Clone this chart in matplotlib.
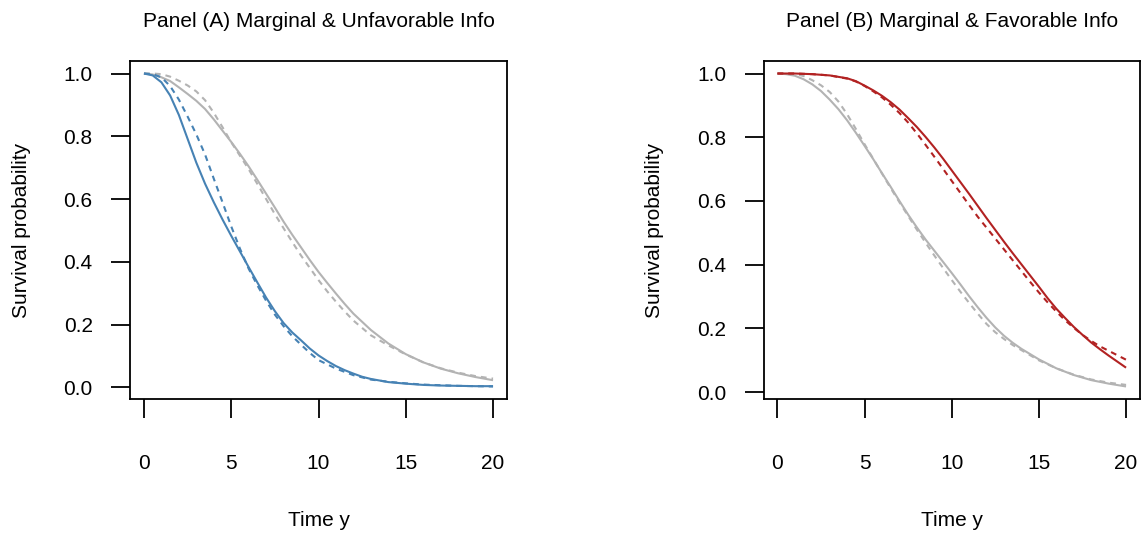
import numpy as np
import matplotlib
matplotlib.use("Agg")
import matplotlib.pyplot as plt

plt.rcParams['font.family'] = ['Liberation Sans', 'DejaVu Sans']

# ---------------- Data ----------------
# Panel A: Marginal & Unfavorable Info
tA_blue_solid = [0, 0.5, 1, 1.5, 2, 2.5, 3, 3.5, 4, 4.5, 5, 5.5, 6, 6.5, 7, 7.5, 8, 8.5, 9,
                 9.5, 10, 10.5, 11, 11.5, 12, 12.5, 13, 14, 15, 16, 17, 18, 19, 20]
sA_blue_solid = [1.0, 0.994, 0.972, 0.930, 0.868, 0.792, 0.716, 0.649, 0.590, 0.535, 0.483,
                 0.433, 0.383, 0.334, 0.286, 0.243, 0.205, 0.175, 0.150, 0.124, 0.102, 0.084,
                 0.068, 0.055, 0.044, 0.034, 0.027, 0.017, 0.012, 0.008, 0.006, 0.005, 0.004,
                 0.004]

tA_blue_dash = [0, 0.5, 1, 1.5, 2, 2.5, 3, 3.5, 4, 4.5, 5, 5.5, 6, 6.5, 7, 7.5, 8, 8.5, 9,
                9.5, 10, 11, 12, 13, 14, 15, 16, 17, 18, 19, 20]
sA_blue_dash = [1.0, 0.998, 0.988, 0.96, 0.917, 0.863, 0.806, 0.742, 0.665, 0.59, 0.513,
                0.442, 0.378, 0.325, 0.276, 0.232, 0.195, 0.163, 0.136, 0.11, 0.087, 0.06,
                0.039, 0.025, 0.018, 0.013, 0.009, 0.007, 0.005, 0.004, 0.003]

tA_gray_solid = [0, 0.5, 1, 1.5, 2, 2.5, 3, 3.5, 4, 4.5, 5, 5.5, 6, 6.5, 7, 7.5, 8, 8.5, 9,
                 9.5, 10, 10.5, 11, 11.5, 12, 13, 14, 15, 16, 17, 18, 19, 20]
sA_gray_solid = [1.0, 0.997, 0.988, 0.976, 0.956, 0.935, 0.913, 0.887, 0.854, 0.818, 0.782,
                 0.744, 0.704, 0.661, 0.617, 0.573, 0.528, 0.486, 0.446, 0.406, 0.368, 0.333,
                 0.299, 0.266, 0.235, 0.183, 0.140, 0.106, 0.080, 0.060, 0.045, 0.033, 0.023]

tA_gray_dash = [0, 0.5, 1, 1.5, 2, 2.5, 3, 3.5, 4, 4.5, 5, 5.5, 6, 6.5, 7, 7.5, 8, 8.5, 9,
                9.5, 10, 10.5, 11, 11.5, 12, 13, 14, 15, 16, 17, 18, 19, 20]
sA_gray_dash = [1.0, 1.0, 0.998, 0.99, 0.977, 0.962, 0.943, 0.915, 0.875, 0.829, 0.781,
                0.738, 0.695, 0.648, 0.6, 0.552, 0.507, 0.463, 0.42, 0.381, 0.342, 0.306,
                0.273, 0.242, 0.213, 0.166, 0.134, 0.105, 0.080, 0.061, 0.047, 0.036, 0.028]

# Panel B: Marginal & Favorable Info
tB_red_solid = [0, 1, 2, 3, 4, 4.5, 5, 5.5, 6, 6.5, 7, 7.5, 8, 8.5, 9, 9.5, 10, 10.5, 11,
                11.5, 12, 12.5, 13, 13.5, 14, 14.5, 15, 15.5, 16, 16.5, 17, 17.5, 18, 18.5,
                19, 19.5, 20]
sB_red_solid = [1.0, 1.0, 0.998, 0.994, 0.985, 0.976, 0.962, 0.947, 0.930, 0.910, 0.887,
                0.860, 0.832, 0.801, 0.768, 0.733, 0.696, 0.659, 0.622, 0.584, 0.546, 0.509,
                0.472, 0.436, 0.401, 0.366, 0.331, 0.295, 0.262, 0.233, 0.205, 0.180, 0.156,
                0.135, 0.115, 0.096, 0.077]

tB_red_dash = [0, 1, 2, 3, 4, 4.5, 5, 5.5, 6, 6.5, 7, 7.5, 8, 8.5, 9, 9.5, 10, 10.5, 11,
               11.5, 12, 12.5, 13, 13.5, 14, 14.5, 15, 15.5, 16, 16.5, 17, 17.5, 18, 18.5,
               19, 19.5, 20]
sB_red_dash = [1.0, 1.0, 0.998, 0.994, 0.984, 0.975, 0.961, 0.944, 0.925, 0.902, 0.876,
               0.846, 0.812, 0.776, 0.739, 0.701, 0.663, 0.625, 0.587, 0.55, 0.516, 0.482,
               0.448, 0.414, 0.38, 0.346, 0.313, 0.282, 0.253, 0.226, 0.202, 0.180, 0.161,
               0.144, 0.130, 0.116, 0.102]

tB_gray_solid = [0, 0.5, 1, 1.5, 2, 2.5, 3, 3.5, 4, 4.5, 5, 5.5, 6, 6.5, 7, 7.5, 8, 8.5, 9,
                 9.5, 10, 10.5, 11, 11.5, 12, 12.5, 13, 13.5, 14, 15, 16, 17, 18, 19, 20]
sB_gray_solid = [1.0, 0.998, 0.993, 0.982, 0.966, 0.945, 0.918, 0.888, 0.853, 0.814, 0.773,
                 0.731, 0.687, 0.644, 0.6, 0.557, 0.517, 0.479, 0.444, 0.409, 0.374, 0.338,
                 0.301, 0.266, 0.233, 0.203, 0.177, 0.155, 0.136, 0.103, 0.075, 0.054, 0.038,
                 0.027, 0.018]

tB_gray_dash = [0, 0.5, 1, 1.5, 2, 2.5, 3, 3.5, 4, 4.5, 5, 5.5, 6, 6.5, 7, 7.5, 8, 8.5, 9,
                9.5, 10, 10.5, 11, 11.5, 12, 12.5, 13, 13.5, 14, 15, 16, 17, 18, 19, 20]
sB_gray_dash = [1.0, 1.0, 0.999, 0.992, 0.979, 0.963, 0.942, 0.912, 0.872, 0.826, 0.778,
                0.732, 0.686, 0.640, 0.596, 0.553, 0.510, 0.469, 0.429, 0.390, 0.352, 0.315,
                0.280, 0.246, 0.214, 0.188, 0.167, 0.148, 0.132, 0.100, 0.075, 0.055, 0.040,
                0.030, 0.023]

x_ticks = [0, 5, 10, 15, 20]
y_ticks = [0.0, 0.2, 0.4, 0.6, 0.8, 1.0]
titles = ["Panel (A) Marginal & Unfavorable Info", "Panel (B) Marginal & Favorable Info"]
x_label = "Time y"
y_label = "Survival probability"

BLUE = "#4682B4"
RED = "#B22222"
GRAY = "#B3B3B3"

# ---------------- Figure ----------------
W, H = 1144, 533
fig = plt.figure(figsize=(W / 100, H / 100), dpi=100)

def px_axes(left, right, top, bottom):
    return fig.add_axes([left / W, (H - bottom) / H, (right - left) / W, (bottom - top) / H])

axA = px_axes(130, 507, 61, 399)
axB = px_axes(763.5, 1140, 61, 399)

FS = 15
LW = 1.5
DASH = (0, (2.8, 2.4))

panels = [
    (axA, [(tA_gray_solid, sA_gray_solid, GRAY, '-'),
           (tA_gray_dash, sA_gray_dash, GRAY, DASH),
           (tA_blue_solid, sA_blue_solid, BLUE, '-'),
           (tA_blue_dash, sA_blue_dash, BLUE, DASH)]),
    (axB, [(tB_gray_solid, sB_gray_solid, GRAY, '-'),
           (tB_gray_dash, sB_gray_dash, GRAY, DASH),
           (tB_red_solid, sB_red_solid, RED, '-'),
           (tB_red_dash, sB_red_dash, RED, DASH)]),
]

for i, (ax, series) in enumerate(panels):
    allt, alls = [], []
    for t, s, c, ls in series:
        ax.plot(t, s, color=c, linestyle=ls, linewidth=LW, solid_capstyle='butt',
                solid_joinstyle='round')
        allt += list(t)
        alls += list(s)
    # R-style 4% axis extension
    tmin, tmax = min(allt), max(allt)
    smin, smax = min(alls), max(alls)
    dt = 0.04 * (tmax - tmin)
    ds = 0.04 * (smax - smin)
    ax.set_xlim(tmin - dt, tmax + dt)
    ax.set_ylim(smin - ds, smax + ds)

    ax.set_xticks(x_ticks)
    ax.set_xticklabels([str(v) for v in x_ticks])
    ax.set_yticks(y_ticks)
    ax.set_yticklabels([f"{v:.1f}" for v in y_ticks])

    for sp in ax.spines.values():
        sp.set_linewidth(1.3)
        sp.set_color('black')
    ax.tick_params(axis='both', direction='out', length=13.7, width=1.3,
                   labelsize=FS, colors='black')
    ax.tick_params(axis='x', pad=26.0)
    ax.tick_params(axis='y', pad=13.2)

    ax.set_title(titles[i], fontsize=FS, y=1 + (61 - 26.5) / 338, pad=0, va='baseline')
    ax.set_xlabel(x_label, fontsize=FS)
    ax.xaxis.label.set_verticalalignment('baseline')
    ax.xaxis.set_label_coords(0.5, (399 - 526) / 338)
    ax.set_ylabel(y_label, fontsize=FS)
    ax.yaxis.label.set_verticalalignment('baseline')
    ax.yaxis.set_label_coords(-103.3 / 376.5, 0.5)

fig.savefig("out.png", dpi=100)
